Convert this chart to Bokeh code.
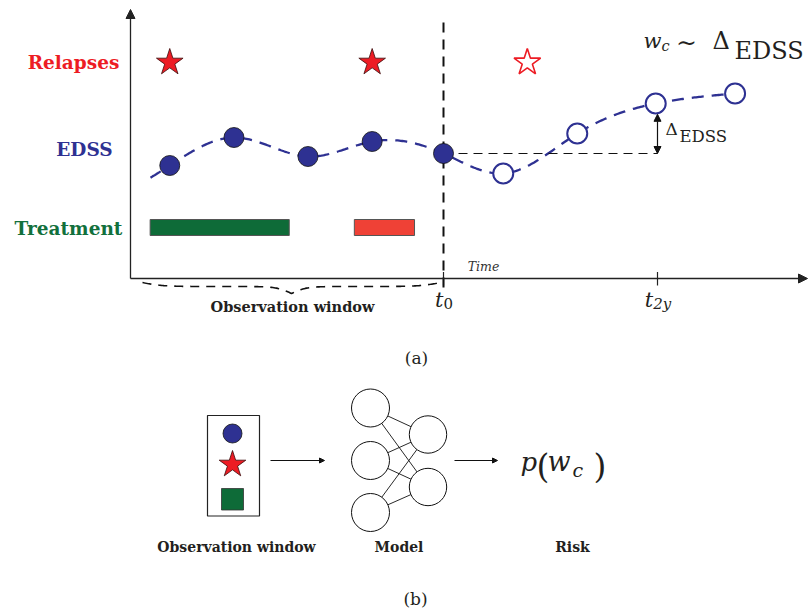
import numpy as np
from bokeh.plotting import figure
from bokeh.layouts import column
from bokeh.models import Range1d, Arrow, NormalHead
from bokeh.core.properties import value
from bokeh.embed import file_html
from bokeh.resources import INLINE

# ---------------- data: panel (a) ----------------
# time in months relative to t0 (t0 = 0, t_2y = 24); EDSS score
edss_past_t = [-30.7, -23.5, -15.2, -8.0, 0.0]
edss_past_v = [2.7, 3.4, 2.925, 3.3, 3.0]
edss_future_t = [6.7, 15.0, 23.8, 32.7]
edss_future_v = [2.5, 3.5, 4.25, 4.5]
relapse_past_t = [-30.7, -8.0]
relapse_future_t = [9.4]
treatment_start = [-32.9, -10.0]
treatment_end = [-17.3, -3.25]
treatment_colors = ["#0e6b38", "#ef4136"]
tick_times = [0, 24]
tick_subs = ["0", "2y"]
delta_t = 24
row_labels = ["Relapses", "EDSS", "Treatment"]
row_label_colors = ["#ed1c24", "#2e3192", "#12703c"]
bottom_labels = ["Observation window", "Model", "Risk"]

BLUE = "#2e3192"
RED = "#ed1c24"
DARK = "#231f20"
MATH = "DejaVu Serif"
BOLD = "DejaVu Serif"
TEXT_SHIFT = 7.0   # px, baseline correction

# ---------------- layout helpers for panel (a) ----------------
S = 214.0 / 24.0          # pixels per month
def tx(px):
    return (px - 443.0) / S
def vy(py):
    return (273.0 - py) / 40.0

def natural_spline(x, y, xs):
    x = np.asarray(x, float); y = np.asarray(y, float)
    n = len(x); h = np.diff(x)
    A = np.zeros((n, n)); r = np.zeros(n)
    A[0, 0] = A[-1, -1] = 1.0
    for i in range(1, n - 1):
        A[i, i - 1] = h[i - 1]; A[i, i] = 2 * (h[i - 1] + h[i]); A[i, i + 1] = h[i]
        r[i] = 3 * ((y[i + 1] - y[i]) / h[i] - (y[i] - y[i - 1]) / h[i - 1])
    c = np.linalg.solve(A, r)
    b = (y[1:] - y[:-1]) / h - h * (2 * c[:-1] + c[1:]) / 3
    d = (c[1:] - c[:-1]) / (3 * h)
    idx = np.clip(np.searchsorted(x, xs) - 1, 0, n - 2)
    dx = xs - x[idx]
    return y[idx] + b[idx] * dx + c[idx] * dx ** 2 + d[idx] * dx ** 3

pa = figure(width=808, height=380, x_range=Range1d(tx(0), tx(808)),
            y_range=Range1d(vy(380), vy(0)), output_backend="svg",
            toolbar_location=None, x_axis_location=None, y_axis_location=None,
            min_border=0, outline_line_color=None, background_fill_color="white",
            border_fill_color="white")
pa.grid.grid_line_color = None

def txt_a(px, py, s, size, font=MATH, style="normal", color=DARK, align="left"):
    pa.text(x=[tx(px)], y=[vy(py - TEXT_SHIFT)], text=[s], text_font=value(font),
            text_font_style=style, text_font_size=size, text_color=color,
            text_align=align, text_baseline="alphabetic")

# axes
ax_t, ax_v = tx(130), vy(278)
pa.add_layout(Arrow(end=NormalHead(size=9, line_color="#222", fill_color="#222"),
                    x_start=ax_t, y_start=ax_v, x_end=ax_t, y_end=vy(9),
                    line_color="#222", line_width=1.3))
pa.add_layout(Arrow(end=NormalHead(size=9, line_color="#222", fill_color="#222"),
                    x_start=ax_t, y_start=ax_v, x_end=tx(807), y_end=ax_v,
                    line_color="#222", line_width=1.3))
pa.segment(x0=tick_times, y0=[vy(271.5)] * len(tick_times), x1=tick_times,
           y1=[vy(285)] * len(tick_times), line_color="#222", line_width=1.2)

# t0 vertical dashed line
pa.line([tick_times[0]] * 2, [vy(22), vy(288)], line_dash="10 7", line_width=2, line_color="#111")

# tick labels
for t, sub in zip(tick_times, tick_subs):
    c = 443 + t * S
    wt, ws = 8.5, 8.5 * len(sub)
    left = c - (wt + ws) / 2
    txt_a(left, 306, "t", "21px", style="italic")
    txt_a(left + wt, 310, sub, "15px", style="italic" if sub != "0" else "normal")
txt_a(483, 273, "Time", "12.5px", style="italic", color="#333", align="center")

# treatment bars
pa.quad(left=treatment_start, right=treatment_end, top=vy(219), bottom=vy(235),
        fill_color=treatment_colors, line_color="#555555", line_width=1)

# EDSS smooth dashed curve
all_t = edss_past_t + edss_future_t
all_v = edss_past_v + edss_future_v
ts = np.linspace(tx(150), tx(748), 400)
pa.line(ts, natural_spline(all_t, all_v, ts), line_color=BLUE, line_width=2.3, line_dash="12 8")

# reference dashed line and delta arrow
pa.line([0, delta_t], [edss_past_v[-1]] * 2, line_color="#111", line_width=1.2, line_dash="9 6")
pa.add_layout(Arrow(start=NormalHead(size=7, fill_color="#111", line_color="#111"),
                    end=NormalHead(size=7, fill_color="#111", line_color="#111"),
                    x_start=delta_t, y_start=edss_past_v[-1], x_end=delta_t,
                    y_end=edss_future_v[2] - 0.27, line_color="#111", line_width=1.2))
txt_a(665, 135, "Δ", "17px")
txt_a(679, 143, "EDSS", "16.5px")

# EDSS markers
pa.scatter(edss_past_t, edss_past_v, marker="circle", size=20, fill_color=BLUE,
           line_color="#111", line_width=0.8)
pa.scatter(edss_future_t, edss_future_v, marker="circle", size=20, fill_color="white",
           line_color=BLUE, line_width=2)

# relapses
rel_row = vy(62)
pa.scatter(relapse_past_t, [rel_row] * len(relapse_past_t), marker="star", size=28,
           fill_color=RED, line_color="#3a0a0a", line_width=0.8)
pa.scatter(relapse_future_t, [rel_row] * len(relapse_future_t), marker="star", size=28,
           fill_color="white", line_color=RED, line_width=1.6)

# row labels
for lab, col, cx, base in zip(row_labels, row_label_colors, [73, 84, 68], [69, 156, 235]):
    txt_a(cx, base, lab, "18.5px", font=BOLD, style="bold", color=col, align="center")

# w_c ~ Delta_EDSS
txt_a(643, 47, "w", "21px", style="italic")
txt_a(661, 52, "c", "14.5px", style="italic")
txt_a(686, 49, "∼", "25px", align="center")
txt_a(712, 47, "Δ", "24px")
txt_a(734, 57, "EDSS", "24px")

# observation window brace
def logistic(z):
    return 1.0 / (1.0 + np.exp(-z))
u = np.linspace(0, 1, 120)
half = 4.0 * (2 * logistic(u / 0.07) - 1) + 7.0 * 2 * logistic((u - 1) / 0.05)
bx = np.concatenate([142 + u * (291 - 142), 291 + u * (440 - 291)])
by = np.concatenate([282 + half, 282 + half[::-1]])
pa.line(tx(bx), vy(by), line_color="#111", line_width=1.6, line_dash="9 7")
txt_a(292, 313, bottom_labels[0], "14.5px", font=BOLD, style="bold", align="center")

txt_a(416, 364, "(a)", "17px", align="center")

# ---------------- panel (b) ----------------
pb = figure(width=808, height=234, x_range=Range1d(0, 808), y_range=Range1d(614, 380),
            output_backend="svg", toolbar_location=None, x_axis_location=None,
            y_axis_location=None, min_border=0, outline_line_color=None,
            background_fill_color="white", border_fill_color="white")
pb.grid.grid_line_color = None

def txt_b(px, py, s, size, font=MATH, style="normal", color=DARK, align="left"):
    pb.text(x=[px], y=[py - TEXT_SHIFT], text=[s], text_font=value(font),
            text_font_style=style, text_font_size=size, text_color=color,
            text_align=align, text_baseline="alphabetic")

# input box
pb.quad(left=207, right=259, top=415, bottom=515.5, fill_color="white", line_color="#222", line_width=1.2)
pb.circle(x=[232], y=[433], radius=9.5, fill_color=BLUE, line_color="#111", line_width=0.8)
pb.scatter(x=[232], y=[464], marker="star", size=28, fill_color=RED, line_color="#3a0a0a", line_width=0.8)
pb.quad(left=221, right=243, top=488, bottom=509.5, fill_color=treatment_colors[0], line_color="#333", line_width=0.8)

# arrows
for xs, xe in [(270, 324), (454, 497)]:
    pb.add_layout(Arrow(end=NormalHead(size=5, fill_color="#111", line_color="#111"),
                        x_start=xs, y_start=460, x_end=xe, y_end=460,
                        line_color="#111", line_width=1))

# network
lx, ly = 370, [407.5, 460, 512]
rx, ry = 427.5, [434, 486.5]
xs0, ys0, xs1, ys1 = [], [], [], []
for a in ly:
    for b in ry:
        xs0.append(lx); ys0.append(a); xs1.append(rx); ys1.append(b)
pb.segment(x0=xs0, y0=ys0, x1=xs1, y1=ys1, line_color="#111", line_width=0.9)
pb.circle(x=[lx] * 3, y=ly, radius=19, fill_color="white", line_color="#111", line_width=1)
pb.circle(x=[rx] * 2, y=ry, radius=18.7, fill_color="white", line_color="#111", line_width=1)

# p(w_c)
txt_b(520, 468, "p", "26px", style="italic")
txt_b(536, 473, "(", "33px")
txt_b(547, 468, "w", "27px", style="italic")
txt_b(572, 476, "c", "19px", style="italic")
txt_b(593, 473, ")", "33px")

for lab, cx in zip(bottom_labels, [236, 398.5, 572]):
    txt_b(cx, 553, lab, "14px", font=BOLD, style="bold", align="center")
txt_b(415, 605, "(b)", "17px", align="center")

layout = column(pa, pb, spacing=0)
open("out.html", "w").write(file_html(layout, INLINE))
